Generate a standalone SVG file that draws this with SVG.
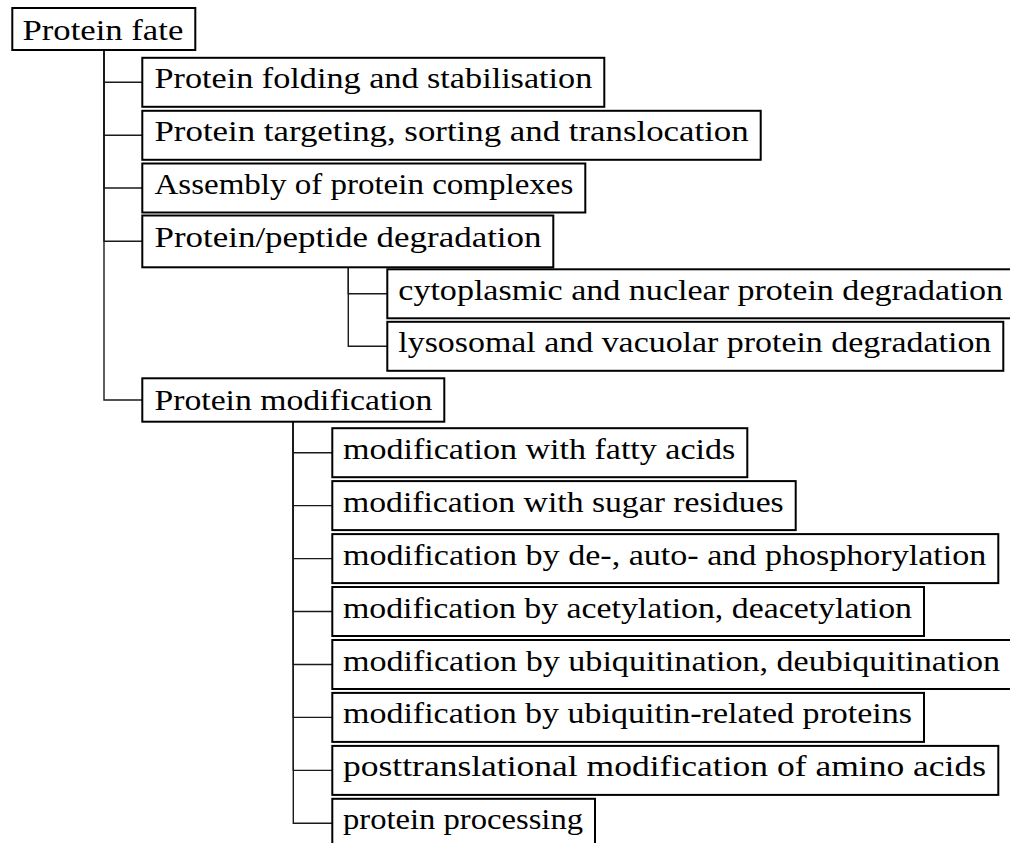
<svg xmlns="http://www.w3.org/2000/svg" width="1010" height="843" viewBox="0 0 1010 843">
  <style>
    .box { fill: #ffffff; stroke: #000000; stroke-width: 2; }
    .lbl { font-family: "Liberation Serif", "Times New Roman", serif; font-size: 28.5px; fill: #000000; }
    .conn { fill: none; stroke: #1a1a1a; stroke-width: 1.4; }
  </style>
  <rect width="1010" height="843" fill="#ffffff"/>

  <!-- tree edges -->
  <g id="connectors">
    <path class="conn" d="M104,50 V82.3 H142.3"/>
    <path class="conn" d="M104,50 V135.3 H142.3"/>
    <path class="conn" d="M104,50 V188 H142.3"/>
    <path class="conn" d="M104,50 V241.3 H142.3"/>
    <path class="conn" d="M104,50 V400 H142.3"/>
    <path class="conn" d="M348.3,267.3 V293.8 H387.3"/>
    <path class="conn" d="M348.3,267.3 V346.3 H387.3"/>
    <path class="conn" d="M293.3,421.7 V452.7 H332.3"/>
    <path class="conn" d="M293.3,421.7 V505.6 H332.3"/>
    <path class="conn" d="M293.3,421.7 V558.6 H332.3"/>
    <path class="conn" d="M293.3,421.7 V611.5 H332.3"/>
    <path class="conn" d="M293.3,421.7 V664.5 H332.3"/>
    <path class="conn" d="M293.3,421.7 V717.4 H332.3"/>
    <path class="conn" d="M293.3,421.7 V770.4 H332.3"/>
    <path class="conn" d="M293.3,421.7 V823.3 H332.3"/>
  </g>

  <!-- root -->
  <g id="protein-fate">
    <rect class="box" x="12.3" y="8" width="183" height="42"/>
    <text class="lbl" x="22.5" y="39.5" textLength="160.8" lengthAdjust="spacingAndGlyphs">Protein fate</text>
  </g>

  <!-- first level -->
  <g id="folding">
    <rect class="box" x="142.3" y="57.8" width="462" height="49"/>
    <text class="lbl" x="154.5" y="88.3" textLength="437.8" lengthAdjust="spacingAndGlyphs">Protein folding and stabilisation</text>
  </g>
  <g id="targeting">
    <rect class="box" x="142.3" y="110.8" width="618.4" height="49"/>
    <text class="lbl" x="154.5" y="141.3" textLength="594.2" lengthAdjust="spacingAndGlyphs">Protein targeting, sorting and translocation</text>
  </g>
  <g id="assembly">
    <rect class="box" x="142.3" y="163.5" width="443" height="49"/>
    <text class="lbl" x="154.5" y="194" textLength="418.8" lengthAdjust="spacingAndGlyphs">Assembly of protein complexes</text>
  </g>
  <g id="degradation">
    <rect class="box" x="142.3" y="215.5" width="411" height="51.8"/>
    <text class="lbl" x="154.5" y="247.3" textLength="387" lengthAdjust="spacingAndGlyphs">Protein/peptide degradation</text>
  </g>
  <g id="modification">
    <rect class="box" x="142.3" y="378.3" width="302" height="43.4"/>
    <text class="lbl" x="154.5" y="409.5" textLength="277.8" lengthAdjust="spacingAndGlyphs">Protein modification</text>
  </g>

  <!-- degradation subtopics -->
  <g id="cytoplasmic-nuclear">
    <rect class="box" x="387.3" y="269.3" width="630" height="49"/>
    <text class="lbl" x="398.3" y="299.8" textLength="604.7" lengthAdjust="spacingAndGlyphs">cytoplasmic and nuclear protein degradation</text>
  </g>
  <g id="lysosomal-vacuolar">
    <rect class="box" x="387.3" y="321.8" width="616" height="49"/>
    <text class="lbl" x="398.3" y="352.3" textLength="593" lengthAdjust="spacingAndGlyphs">lysosomal and vacuolar protein degradation</text>
  </g>

  <!-- modification subtopics -->
  <g id="fatty-acids">
    <rect class="box" x="332.3" y="428.2" width="415" height="49"/>
    <text class="lbl" x="343" y="458.7" textLength="392.3" lengthAdjust="spacingAndGlyphs">modification with fatty acids</text>
  </g>
  <g id="sugar-residues">
    <rect class="box" x="332.3" y="481.1" width="463.4" height="49"/>
    <text class="lbl" x="343" y="511.6" textLength="440.7" lengthAdjust="spacingAndGlyphs">modification with sugar residues</text>
  </g>
  <g id="phosphorylation">
    <rect class="box" x="332.3" y="534.1" width="666" height="49"/>
    <text class="lbl" x="343" y="564.6" textLength="643.3" lengthAdjust="spacingAndGlyphs">modification by de-, auto- and phosphorylation</text>
  </g>
  <g id="acetylation">
    <rect class="box" x="332.3" y="587" width="591.7" height="49"/>
    <text class="lbl" x="343" y="617.5" textLength="569" lengthAdjust="spacingAndGlyphs">modification by acetylation, deacetylation</text>
  </g>
  <g id="ubiquitination">
    <rect class="box" x="332.3" y="640" width="690" height="49"/>
    <text class="lbl" x="343" y="670.5" textLength="657" lengthAdjust="spacingAndGlyphs">modification by ubiquitination, deubiquitination</text>
  </g>
  <g id="ubiquitin-related">
    <rect class="box" x="332.3" y="692.9" width="591.7" height="49"/>
    <text class="lbl" x="343" y="723.4" textLength="569" lengthAdjust="spacingAndGlyphs">modification by ubiquitin-related proteins</text>
  </g>
  <g id="posttranslational">
    <rect class="box" x="332.3" y="745.9" width="666" height="49"/>
    <text class="lbl" x="343" y="776.4" textLength="643" lengthAdjust="spacingAndGlyphs">posttranslational modification of amino acids</text>
  </g>
  <g id="processing">
    <rect class="box" x="332.3" y="798.8" width="262.7" height="49"/>
    <text class="lbl" x="343" y="829.3" textLength="240" lengthAdjust="spacingAndGlyphs">protein processing</text>
  </g>
</svg>
